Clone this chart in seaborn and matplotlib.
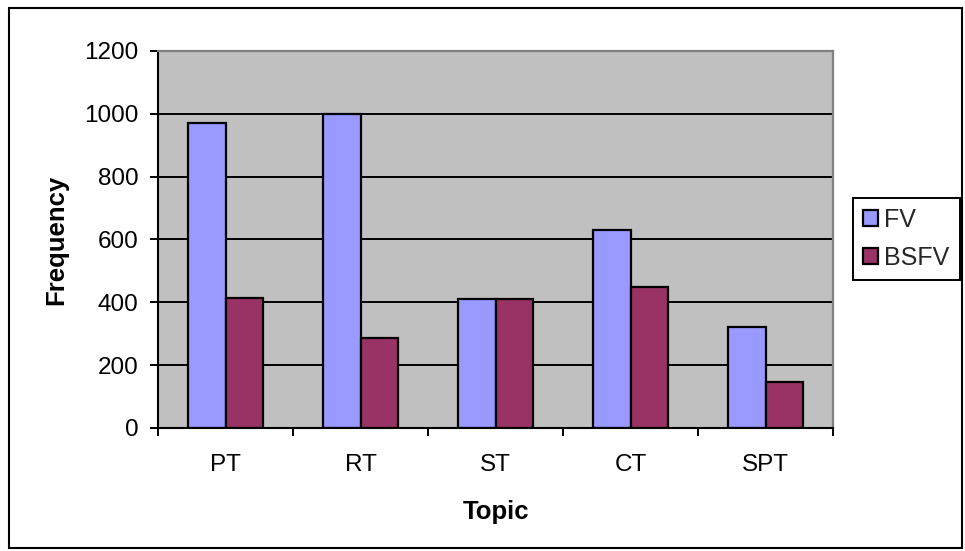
import matplotlib
matplotlib.use("Agg")
import matplotlib.pyplot as plt
import seaborn as sns
import pandas as pd

# chart data
topics = ["PT", "RT", "ST", "CT", "SPT"]
fv = [970, 1000, 410, 630, 320]
bsfv = [415, 285, 410, 450, 145]
series_names = ["FV", "BSFV"]
series_colors = ["#9999FF", "#993366"]

sns.set_theme(style="white")
plt.rcParams['font.family'] = ['Liberation Sans', 'DejaVu Sans']

df = pd.DataFrame({"Topic": topics, "FV": fv, "BSFV": bsfv})
df = df.melt(id_vars="Topic", var_name="Series", value_name="Frequency")

fig = plt.figure(figsize=(9.65, 5.51), dpi=100)
W, H = 965, 551
# plot area in pixels: x 158..833, y 51..428
ax = fig.add_axes([158 / W, 1 - 428 / H, (833 - 158) / W, (428 - 51) / H])
ax.set_facecolor("#C0C0C0")

sns.barplot(data=df, x="Topic", y="Frequency", hue="Series",
            hue_order=series_names, palette=series_colors,
            edgecolor="black", linewidth=1.6, width=0.56,
            saturation=1, ax=ax)

ax.set_ylim(0, 1200)
ax.set_xlim(-0.5, len(topics) - 0.5)
ax.set_yticks(range(0, 1201, 200))

# gridlines and frame
ax.set_axisbelow(True)
ax.yaxis.grid(True, color="black", linewidth=1.4)
ax.xaxis.grid(False)
for side in ["left", "bottom"]:
    ax.spines[side].set_color("black")
    ax.spines[side].set_linewidth(1.5)
for side in ["top", "right"]:
    ax.spines[side].set_color("#808080")
    ax.spines[side].set_linewidth(1.6)

# tick marks sit on the category boundaries, labels in the middle
ax.set_xticks([i - 0.5 for i in range(len(topics) + 1)], minor=True)
ax.tick_params(axis="x", which="minor", direction="out", length=6,
               width=1.4, color="black", bottom=True)
ax.tick_params(axis="x", which="major", length=0, pad=19, labelsize=17.5,
               labelcolor="black")
ax.tick_params(axis="y", which="major", direction="out", length=6,
               width=1.4, color="black", left=True, pad=8, labelsize=17.5,
               labelcolor="black")

ax.set_xlabel("Topic", fontsize=18.5, fontweight="bold", color="black")
ax.set_ylabel("Frequency", fontsize=18.5, fontweight="bold", color="black")
ax.xaxis.set_label_coords(0.5, (428 - 512) / 377)
ax.xaxis.label.set_va("center")
ax.yaxis.set_label_coords((56 - 158) / 675, 0.5)
ax.yaxis.label.set_va("center")

ax.legend(title=None, loc="center left",
          bbox_to_anchor=(853 / W, 1 - 239 / H), bbox_transform=fig.transFigure,
          fontsize=18, frameon=True, fancybox=False, edgecolor="black",
          framealpha=1, handlelength=0.6, handleheight=0.6,
          handletextpad=0.25, labelspacing=0.55, borderpad=0.4,
          borderaxespad=0)
ax.get_legend().get_frame().set_linewidth(1.4)

# outer chart border
fig.add_artist(plt.Rectangle((9 / W, 1 - 548 / H), (962 - 9) / W, (548 - 8) / H,
                             transform=fig.transFigure, fill=False,
                             edgecolor="black", linewidth=1.5))

fig.savefig("out.png", dpi=100)
